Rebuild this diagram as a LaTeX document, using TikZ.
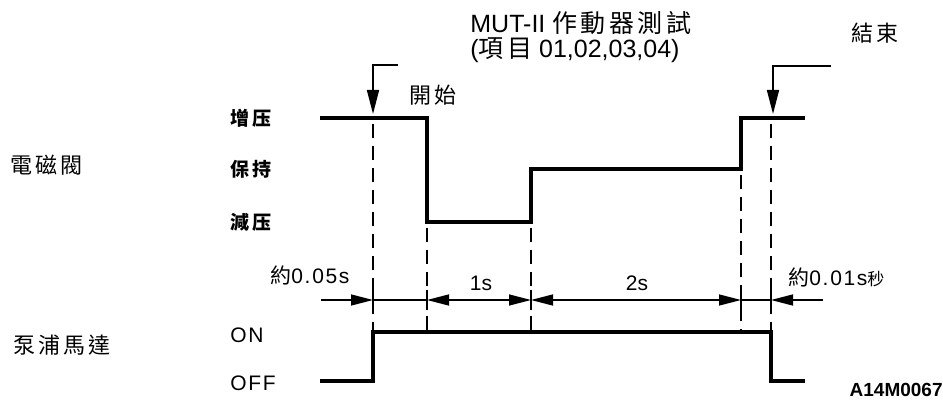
\documentclass[tikz,border=0pt]{standalone}
\usepackage{fontspec}
\setmainfont{Liberation Sans}
\newfontfamily\cjk[LetterSpace=14]{Noto Sans CJK TC}
\newfontfamily\cjkplain{Noto Sans CJK TC}
\usetikzlibrary{arrows.meta, positioning, calc}

\begin{document}
\begin{tikzpicture}[
        x=0.5pt, y=-0.5pt,
        sigLine/.style={
            line width=2pt,
            line join=miter
        },
        guideLine/.style={
            line width=1.3pt,
            dash pattern=on 7pt off 4pt
        },
        tickLine/.style={
            line width=1.3pt
        },
        dimLine/.style={
            line width=0.7pt
        },
        dimArrow/.style={
            line width=0.7pt,
            -{Triangle[length=11pt,width=5.5pt]}
        },
        dimBoth/.style={
            line width=0.7pt,
            {Triangle[length=11pt,width=5.5pt]}-{Triangle[length=11pt,width=5.5pt]}
        },
        markArrow/.style={
            line width=0.8pt,
            -{Triangle[length=12pt,width=6pt]}
        },
        groupLabel/.style={
            font=\cjk\fontsize{11}{13}\selectfont,
            inner sep=0pt
        },
        levelLabel/.style={
            font=\cjk\bfseries\fontsize{9.5}{11}\selectfont\addfontfeatures{LetterSpace=16},
            anchor=west,
            inner sep=0pt
        },
        timeLabel/.style={
            font=\fontsize{10.5}{12}\selectfont,
            inner sep=0pt
        },
        spacedLabel/.style={
            font=\fontsize{10.5}{12}\selectfont\addfontfeatures{LetterSpace=8},
            inner sep=0pt
        }
    ]

    \useasboundingbox (0,0) rectangle (943,401);

    % Time points and levels
    \coordinate (tLeft) at (320,0);
    \coordinate (tStart) at (373,0);
    \coordinate (tDec) at (427,0);
    \coordinate (tHold) at (531,0);
    \coordinate (tInc) at (741,0);
    \coordinate (tEnd) at (771,0);
    \coordinate (tRight) at (805,0);

    % Labels on the left
    \node[groupLabel, anchor=west] (valve) at (10,165) {電磁閥};
    \node[groupLabel, anchor=west] (pump) at (13,345) {泵浦馬達};

    \node[levelLabel] (lvUp) at (230,118) {增压};
    \node[levelLabel] (lvHold) at (230,169) {保持};
    \node[levelLabel] (lvDown) at (230,222) {減压};
    \node[spacedLabel, anchor=west] (lvOn) at (230,335) {ON};
    \node[spacedLabel, anchor=west] (lvOff) at (230,383) {OFF};

    % Title
    \node[font=\fontsize{12.5}{15}\selectfont, anchor=west, inner sep=0pt] (title) at (470,23) {MUT-II {\cjk 作動器測試}};
    \node[font=\fontsize{12.5}{15}\selectfont, anchor=west, inner sep=0pt] (items) at (470,50) {({\cjk 項目} 01,02,03,04)};

    % Start and end marks
    \node[groupLabel, anchor=west] (startText) at (409,95) {開始};
    \node[groupLabel, anchor=west] (endText) at (851,33) {結束};
    \coordinate (startBend) at (373,65);
    \coordinate (endBend) at (773,66);
    \draw[markArrow] (398,65) -- (startBend) -- (373,114);
    \draw[markArrow] (831,66) -- (endBend) -- (773,114);

    % Solenoid valve signal
    \draw[sigLine] (320,118) -- (427,118) -- (427,222) -- (531,222)
        -- (531,169) -- (741,169) -- (741,118) -- (805,118);

    % Pump motor signal
    \draw[sigLine] (320,381) -- (373,381) -- (373,332) -- (771,332)
        -- (771,381) -- (805,381);

    % Guide lines
    \draw[guideLine] (373,124) -- (373,330);
    \draw[guideLine] (427,228) -- (427,330);
    \draw[guideLine] (531,228) -- (531,330);
    \draw[guideLine] (741,175) -- (741,330);
    \draw[guideLine] (771,124) -- (771,330);

    \foreach \tx in {373,427,531,741,771}
        \draw[tickLine] (\tx,290) -- (\tx,310);

    % Dimension line
    \draw[dimArrow] (321,300) -- (373,300);
    \draw[dimLine] (373,300) -- (427,300);
    \draw[dimBoth] (427,300) -- (531,300);
    \draw[dimBoth] (531,300) -- (741,300);
    \draw[dimLine] (741,300) -- (771,300);
    \draw[dimArrow] (823,300) -- (771,300);

    \node[spacedLabel, anchor=west] (dtStart) at (270,275) {{\cjkplain 約}0.05s};
    \node[timeLabel] (dtOne) at (481,283) {1s};
    \node[timeLabel] (dtTwo) at (637,283) {2s};
    \node[spacedLabel, anchor=west] (dtEnd) at (788,277) {{\cjkplain 約}0.01s{\cjkplain\fontsize{8.5}{10}\selectfont 秒}};

    % Figure code
    \node[font=\bfseries\fontsize{9.5}{11}\selectfont, anchor=east, inner sep=0pt] (figId) at (943,390) {A14M0067};

\end{tikzpicture}
\end{document}
